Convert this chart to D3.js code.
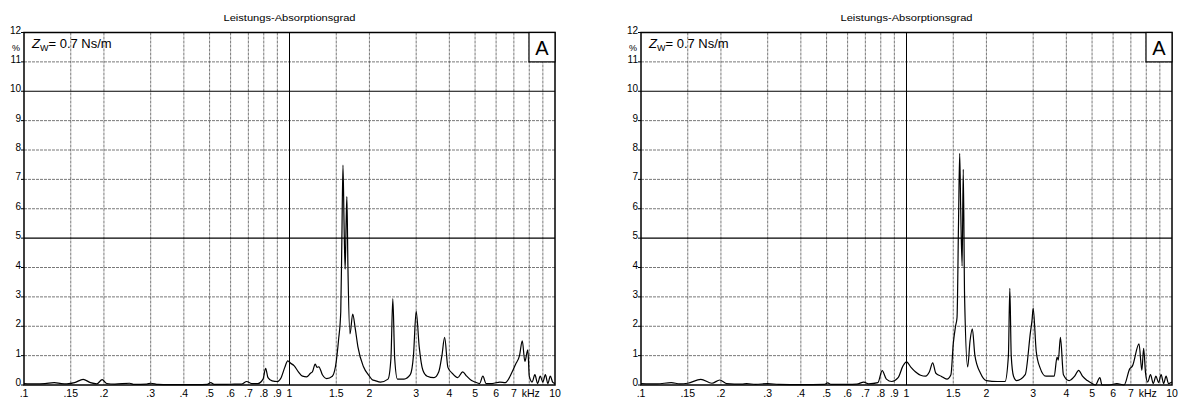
<!DOCTYPE html>
<html>
<head>
<meta charset="utf-8">
<script src="https://cdn.jsdelivr.net/npm/d3@7"></script>
<style>
  body { margin: 0; background: #fff; }
  svg { display: block; font-family: "Liberation Sans", Arial, sans-serif; }
</style>
</head>
<body>
<svg id="chart" width="1180" height="398"></svg>
<script>
// frequency in kHz, absorption in %
const freqA = [0.100, 0.110, 0.120, 0.130, 0.138, 0.145, 0.155, 0.167, 0.178, 0.188, 0.197, 0.205, 0.22, 0.25, 0.26, 0.29, 0.30, 0.32, 0.35, 0.40, 0.45, 0.49, 0.505, 0.52, 0.58, 0.62, 0.66, 0.69, 0.72, 0.76, 0.795, 0.813, 0.83, 0.86, 0.90, 0.93, 0.96, 0.985, 1.01, 1.04, 1.08, 1.12, 1.16, 1.2, 1.22, 1.25, 1.27, 1.29, 1.33, 1.38, 1.45, 1.5, 1.53, 1.56, 1.575, 1.59, 1.605, 1.62, 1.635, 1.645, 1.66, 1.69, 1.73, 1.77, 1.81, 1.9, 2.0, 2.05, 2.1, 2.2, 2.35, 2.41, 2.45, 2.49, 2.55, 2.7, 2.85, 2.93, 3.0, 3.08, 3.18, 3.3, 3.5, 3.65, 3.75, 3.84, 3.95, 4.1, 4.3, 4.49, 4.65, 4.85, 5.0, 5.2, 5.35, 5.5, 5.8, 6.2, 6.5, 6.9, 7.1, 7.35, 7.53, 7.7, 7.9, 8.0, 8.2, 8.4, 8.6, 8.8, 9.0, 9.2, 9.4, 9.6, 9.8, 10];
const valsA = [0.05, 0.04, 0.05, 0.08, 0.05, 0.04, 0.08, 0.19, 0.08, 0.04, 0.18, 0.05, 0.03, 0.06, 0.02, 0.03, 0.06, 0.02, 0.01, 0.01, 0.01, 0.02, 0.08, 0.02, 0.02, 0.03, 0.03, 0.12, 0.05, 0.05, 0.2, 0.57, 0.25, 0.14, 0.12, 0.25, 0.6, 0.82, 0.74, 0.66, 0.45, 0.3, 0.28, 0.4, 0.45, 0.71, 0.6, 0.62, 0.35, 0.22, 0.3, 0.8, 1.53, 2.5, 5.0, 7.49, 5.5, 3.94, 5.6, 6.41, 4.0, 1.74, 2.41, 1.9, 1.3, 0.62, 0.3, 0.18, 0.15, 0.1, 0.2, 0.9, 2.94, 0.9, 0.2, 0.2, 0.35, 1.0, 2.51, 1.3, 0.5, 0.3, 0.25, 0.45, 1.0, 1.62, 0.6, 0.4, 0.25, 0.45, 0.3, 0.15, 0.1, 0.05, 0.3, 0.05, 0.05, 0.1, 0.08, 0.45, 0.7, 1.0, 1.5, 0.8, 1.2, 0.3, 0.1, 0.35, 0.05, 0.3, 0.1, 0.35, 0.05, 0.3, 0.1, 0.05];

const freqB = [0.100, 0.115, 0.13, 0.14, 0.15, 0.168, 0.185, 0.198, 0.21, 0.24, 0.25, 0.27, 0.30, 0.33, 0.4, 0.49, 0.505, 0.52, 0.6, 0.65, 0.69, 0.72, 0.78, 0.81, 0.84, 0.88, 0.93, 0.97, 1.0, 1.04, 1.08, 1.13, 1.18, 1.22, 1.255, 1.29, 1.35, 1.42, 1.47, 1.5, 1.53, 1.55, 1.57, 1.586, 1.6, 1.62, 1.636, 1.655, 1.70, 1.735, 1.77, 1.81, 1.9, 2.0, 2.2, 2.35, 2.42, 2.45, 2.48, 2.53, 2.6, 2.8, 2.93, 2.97, 3.0, 3.08, 3.18, 3.35, 3.6, 3.69, 3.73, 3.8, 3.9, 4.1, 4.3, 4.45, 4.6, 4.8, 5.0, 5.15, 5.35, 5.45, 5.8, 6.2, 6.6, 6.93, 7.1, 7.51, 7.7, 7.82, 7.95, 8.1, 8.3, 8.5, 8.7, 8.9, 9.1, 9.3, 9.5, 9.7, 10];
const valsB = [0.05, 0.04, 0.08, 0.04, 0.06, 0.19, 0.06, 0.17, 0.05, 0.03, 0.05, 0.02, 0.05, 0.02, 0.01, 0.02, 0.07, 0.02, 0.02, 0.03, 0.1, 0.04, 0.08, 0.49, 0.2, 0.12, 0.25, 0.65, 0.79, 0.6, 0.45, 0.33, 0.3, 0.45, 0.75, 0.4, 0.3, 0.2, 0.35, 1.4, 2.0, 2.3, 5.5, 7.89, 6.0, 4.05, 7.34, 3.0, 0.62, 1.5, 1.91, 1.0, 0.4, 0.15, 0.12, 0.12, 1.0, 3.29, 1.0, 0.3, 0.15, 0.35, 1.8, 2.2, 2.61, 1.15, 0.6, 0.3, 0.3, 0.95, 0.85, 1.62, 0.35, 0.15, 0.3, 0.5, 0.3, 0.15, 0.05, 0.0, 0.25, 0.0, 0.0, 0.05, 0.0, 0.55, 0.65, 1.4, 0.5, 1.25, 0.4, 0.1, 0.35, 0.05, 0.3, 0.08, 0.35, 0.05, 0.3, 0.05, 0.1];

const yTicks = [0, 1, 2, 3, 4, 5, 6, 7, 8, 9, 10, 11, 12];
const xGrid = [0.15, 0.2, 0.3, 0.4, 0.5, 0.6, 0.7, 0.8, 0.9, 1.5, 2, 3, 4, 5, 6, 7, 8, 9];
const xLabelPos = [0.1, 0.15, 0.2, 0.3, 0.4, 0.5, 0.6, 0.7, 0.8, 0.9, 1, 1.5, 2, 3, 4, 5, 6, 7, 8.1, 10];
const xLabelText = [".1", ".15", ".2", ".3", ".4", ".5", ".6", ".7", ".8", ".9", "1", "1.5", "2", "3", "4", "5", "6", "7", "kHz", "10"];

const svg = d3.select("#chart");
const width = 531, height = 352.5;

function drawPanel(left, freq, vals) {
  const g = svg.append("g").attr("transform", "translate(" + left + ",32.5)");

  const x = d3.scaleLog().domain([0.1, 10]).range([0, width]);
  const y = d3.scaleLinear().domain([0, 12]).range([height, 0]);

  // dashed minor grid
  g.selectAll(".vgrid").data(xGrid).enter().append("line")
    .attr("x1", d => x(d)).attr("x2", d => x(d))
    .attr("y1", 0).attr("y2", height)
    .attr("stroke", "#555").attr("stroke-width", 0.8)
    .attr("stroke-dasharray", "3,1");
  g.selectAll(".hgrid").data(yTicks.filter(d => d > 0 && d < 12 && d !== 5 && d !== 10)).enter().append("line")
    .attr("x1", 0).attr("x2", width)
    .attr("y1", d => y(d)).attr("y2", d => y(d))
    .attr("stroke", "#555").attr("stroke-width", 0.8)
    .attr("stroke-dasharray", "3,1");

  // solid major lines
  g.append("line").attr("x1", x(1)).attr("x2", x(1)).attr("y1", 0).attr("y2", height)
    .attr("stroke", "#000").attr("stroke-width", 1);
  [5, 10].forEach(v => {
    g.append("line").attr("x1", 0).attr("x2", width).attr("y1", y(v)).attr("y2", y(v))
      .attr("stroke", "#000").attr("stroke-width", 1.2);
  });

  // y labels with short outside ticks
  g.selectAll(".yt").data(yTicks).enter().append("line")
    .attr("x1", -3).attr("x2", 0)
    .attr("y1", d => y(d)).attr("y2", d => y(d))
    .attr("stroke", "#000").attr("stroke-width", 1);
  g.selectAll(".yl").data(yTicks).enter().append("text")
    .attr("x", -3).attr("y", d => y(d) + 1)
    .attr("text-anchor", "end")
    .style("font-size", "10px")
    .text(d => d);
  g.append("text").attr("x", -4).attr("y", y(11.5) + 4)
    .attr("text-anchor", "end").style("font-size", "9px").text("%");

  // x labels
  g.selectAll(".xl").data(xLabelPos).enter().append("text")
    .attr("x", d => x(d)).attr("y", height + 11.5)
    .attr("text-anchor", "middle")
    .style("font-size", "10.5px")
    .text((d, i) => xLabelText[i]);

  // curve
  const pts = freq.map((f, i) => [f, vals[i]]);
  const line = d3.line()
    .x(d => x(d[0]))
    .y(d => y(d[1]))
    .curve(d3.curveMonotoneX);
  g.append("path").datum(pts)
    .attr("d", line)
    .attr("fill", "none")
    .attr("stroke", "#000")
    .attr("stroke-width", 1.2);

  // frame
  g.append("rect").attr("x", 0).attr("y", 0).attr("width", width).attr("height", height)
    .attr("fill", "none").attr("stroke", "#000").attr("stroke-width", 1.5);

  // title
  g.append("text").attr("x", width / 2).attr("y", -11.5)
    .attr("text-anchor", "middle").style("font-size", "9.5px")
    .attr("textLength", 132).attr("lengthAdjust", "spacingAndGlyphs")
    .text("Leistungs-Absorptionsgrad");

  // Z_W annotation
  const zt = g.append("text").attr("x", 8).attr("y", 15.5).style("font-size", "13px");
  zt.append("tspan").style("font-style", "italic").text("Z");
  zt.append("tspan").attr("dy", 3).style("font-size", "9px").text("W");
  zt.append("tspan").attr("dy", -3).text("= 0.7 Ns/m");

  // "A" box
  g.append("rect").attr("x", width - 26).attr("y", 0).attr("width", 26).attr("height", y(11))
    .attr("fill", "#fff").attr("stroke", "#000").attr("stroke-width", 1.2);
  g.append("text").attr("x", width - 13).attr("y", 22)
    .attr("text-anchor", "middle").style("font-size", "20px").text("A");
}

drawPanel(24, freqA, valsA);
drawPanel(641, freqB, valsB);
</script>
</body>
</html>
